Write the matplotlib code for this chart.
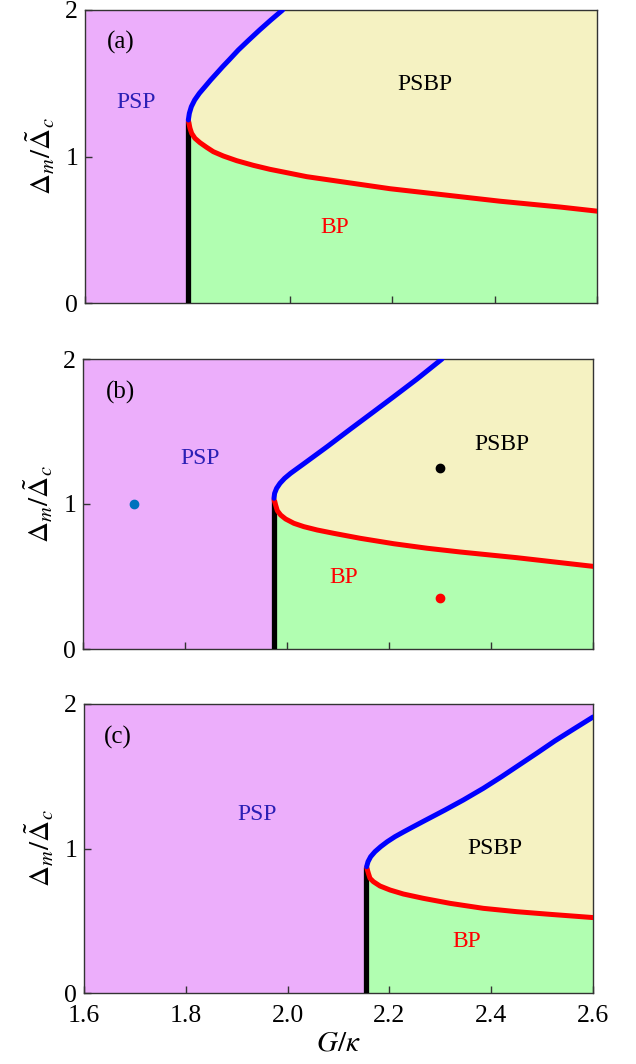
import matplotlib
matplotlib.use('Agg')
import matplotlib.pyplot as plt

plt.rcParams['font.family'] = ['Liberation Serif', 'DejaVu Serif']
plt.rcParams['mathtext.fontset'] = 'stix'

# phase boundaries, x = G/kappa, y = Delta_m/Delta_c
g_crit = [1.802, 1.974, 2.155]

blue_g = [
    [1.8018, 1.8038, 1.8077, 1.8142, 1.8233, 1.8344, 1.8454, 1.8572, 1.8689, 1.8813,
     1.8995, 1.9200, 1.9410, 1.9630, 1.9860],
    [1.9745, 1.9757, 1.9796, 1.9862, 1.9953, 2.0070, 2.0201, 2.0331, 2.0787, 2.1245,
     2.1701, 2.2093, 2.2550, 2.3039],
    [2.1553, 2.1580, 2.1632, 2.1717, 2.1829, 2.1959, 2.2110, 2.2287, 2.2470, 2.2700,
     2.3092, 2.3452, 2.3845, 2.4205, 2.4499, 2.4892, 2.5252, 2.5613, 2.6000],
]
blue_d = [
    [1.2491, 1.2947, 1.3402, 1.3857, 1.4312, 1.4767, 1.5222, 1.5677, 1.6132, 1.6587,
     1.7270, 1.7952, 1.8635, 1.9317, 2.0000],
    [1.0391, 1.0736, 1.1081, 1.1426, 1.1770, 1.2115, 1.2450, 1.2780, 1.3954, 1.5172,
     1.6368, 1.7402, 1.8621, 2.0000],
    [0.8743, 0.9089, 0.9435, 0.9781, 1.0127, 1.0473, 1.0819, 1.1165, 1.1511, 1.1940,
     1.2664, 1.3356, 1.4164, 1.4971, 1.5663, 1.6586, 1.7450, 1.8250, 1.9100],
]
red_g = [
    [1.8018, 1.8051, 1.8083, 1.8148, 1.8246, 1.8376, 1.8506, 1.8702, 1.8962, 1.9288,
     1.9613, 1.9939, 2.0329, 2.1960, 2.4100, 2.5280, 2.6000],
    [1.9745, 1.9777, 1.9810, 1.9875, 1.9973, 2.0136, 2.0331, 2.0592, 2.0918, 2.1440,
     2.2093, 2.2745, 2.3397, 2.4500, 2.6000],
    [2.1553, 2.1587, 2.1619, 2.1685, 2.1815, 2.2012, 2.2274, 2.2667, 2.3191, 2.3845,
     2.4499, 2.5155, 2.6000],
]
red_d = [
    [1.2450, 1.1923, 1.1582, 1.1240, 1.0944, 1.0626, 1.0330, 1.0034, 0.9716, 0.9397,
     0.9124, 0.8897, 0.8624, 0.7800, 0.6950, 0.6550, 0.6270],
    [1.0300, 0.9931, 0.9540, 0.9241, 0.8966, 0.8667, 0.8437, 0.8207, 0.7977, 0.7632,
     0.7260, 0.6950, 0.6690, 0.6300, 0.5700],
    [0.8700, 0.8282, 0.7935, 0.7705, 0.7405, 0.7128, 0.6851, 0.6551, 0.6205, 0.5859,
     0.5628, 0.5444, 0.5220],
]

# marked points in panel (b)
pts_g = [1.70, 2.30, 2.30]
pts_d = [1.00, 1.25, 0.35]
pts_c = ['#0072BD', 'black', 'red']

panel_tags = ['(a)', '(b)', '(c)']
tag_pos = [(1.670, 1.78), (1.674, 1.77), (1.667, 1.77)]
psp_pos = [(1.700, 1.37), (1.829, 1.317), (1.940, 1.232)]
psbp_pos = [(2.264, 1.49), (2.422, 1.407), (2.407, 1.003)]
bp_pos = [(2.088, 0.512), (2.111, 0.49), (2.352, 0.353)]

c_psp = '#ECAEFB'
c_psbp = '#F5F2C2'
c_bp = '#B1FEB1'

fig = plt.figure(figsize=(6.36, 10.64), dpi=100)
rects = [
    [85 / 636, 1 - 303 / 1064, 512 / 636, 293 / 1064],
    [83 / 636, 1 - 649 / 1064, 510 / 636, 290 / 1064],
    [84 / 636, 1 - 993 / 1064, 509 / 636, 289 / 1064],
]

for i in range(3):
    ax = fig.add_axes(rects[i])
    ax.set_facecolor(c_psp)
    bg, bd = blue_g[i], blue_d[i]
    rg, rd = red_g[i], red_d[i]
    gc = g_crit[i]

    # BP region under the red curve
    ax.fill([gc] + rg + [2.6], [0] + rd + [0], color=c_bp, lw=0, zorder=1)
    # PSBP region between red and blue
    corner = bd[-1] if bg[-1] >= 2.6 else 2.0
    ax.fill(rg + [2.6] + bg[::-1], rd + [corner] + bd[::-1], color=c_psbp, lw=0, zorder=1)

    ax.plot([gc, gc], [0, rd[0]], color='black', lw=3.8, solid_capstyle='butt', zorder=3)
    ax.plot(rg, rd, color='red', lw=3.6, solid_capstyle='round', zorder=3)
    ax.plot(bg, bd, color='blue', lw=3.6, solid_capstyle='round', zorder=3)

    if i == 1:
        for g, d, c in zip(pts_g, pts_d, pts_c):
            ax.plot(g, d, 'o', color=c, ms=6, zorder=4)

    ax.text(*tag_pos[i], panel_tags[i], fontsize=18, ha='center', va='center', color='black')
    ax.text(*psp_pos[i], 'PSP', fontsize=17, ha='center', va='center', color='#2B1FB5')
    ax.text(*psbp_pos[i], 'PSBP', fontsize=17, ha='center', va='center', color='black')
    ax.text(*bp_pos[i], 'BP', fontsize=17, ha='center', va='center', color='red')

    ax.set_xlim(1.6, 2.6)
    ax.set_ylim(0, 2)
    ax.set_xticks([1.6, 1.8, 2.0, 2.2, 2.4, 2.6])
    ax.set_yticks([0, 1, 2])
    ax.tick_params(direction='in', length=5, width=1, labelsize=18.5, color='#333333')
    ax.tick_params(axis='y', pad=5)
    ax.tick_params(axis='x', pad=9)
    for s in ax.spines.values():
        s.set_color('#333333')
        s.set_linewidth(1.0)
    ax.set_ylabel(r'$\Delta_m/\tilde{\Delta}_c$', fontsize=21, labelpad=6)
    if i < 2:
        ax.set_xticklabels([])
    else:
        ax.set_xlabel(r'$G/\kappa$', fontsize=21, labelpad=2)

fig.savefig('out.png', dpi=100)
